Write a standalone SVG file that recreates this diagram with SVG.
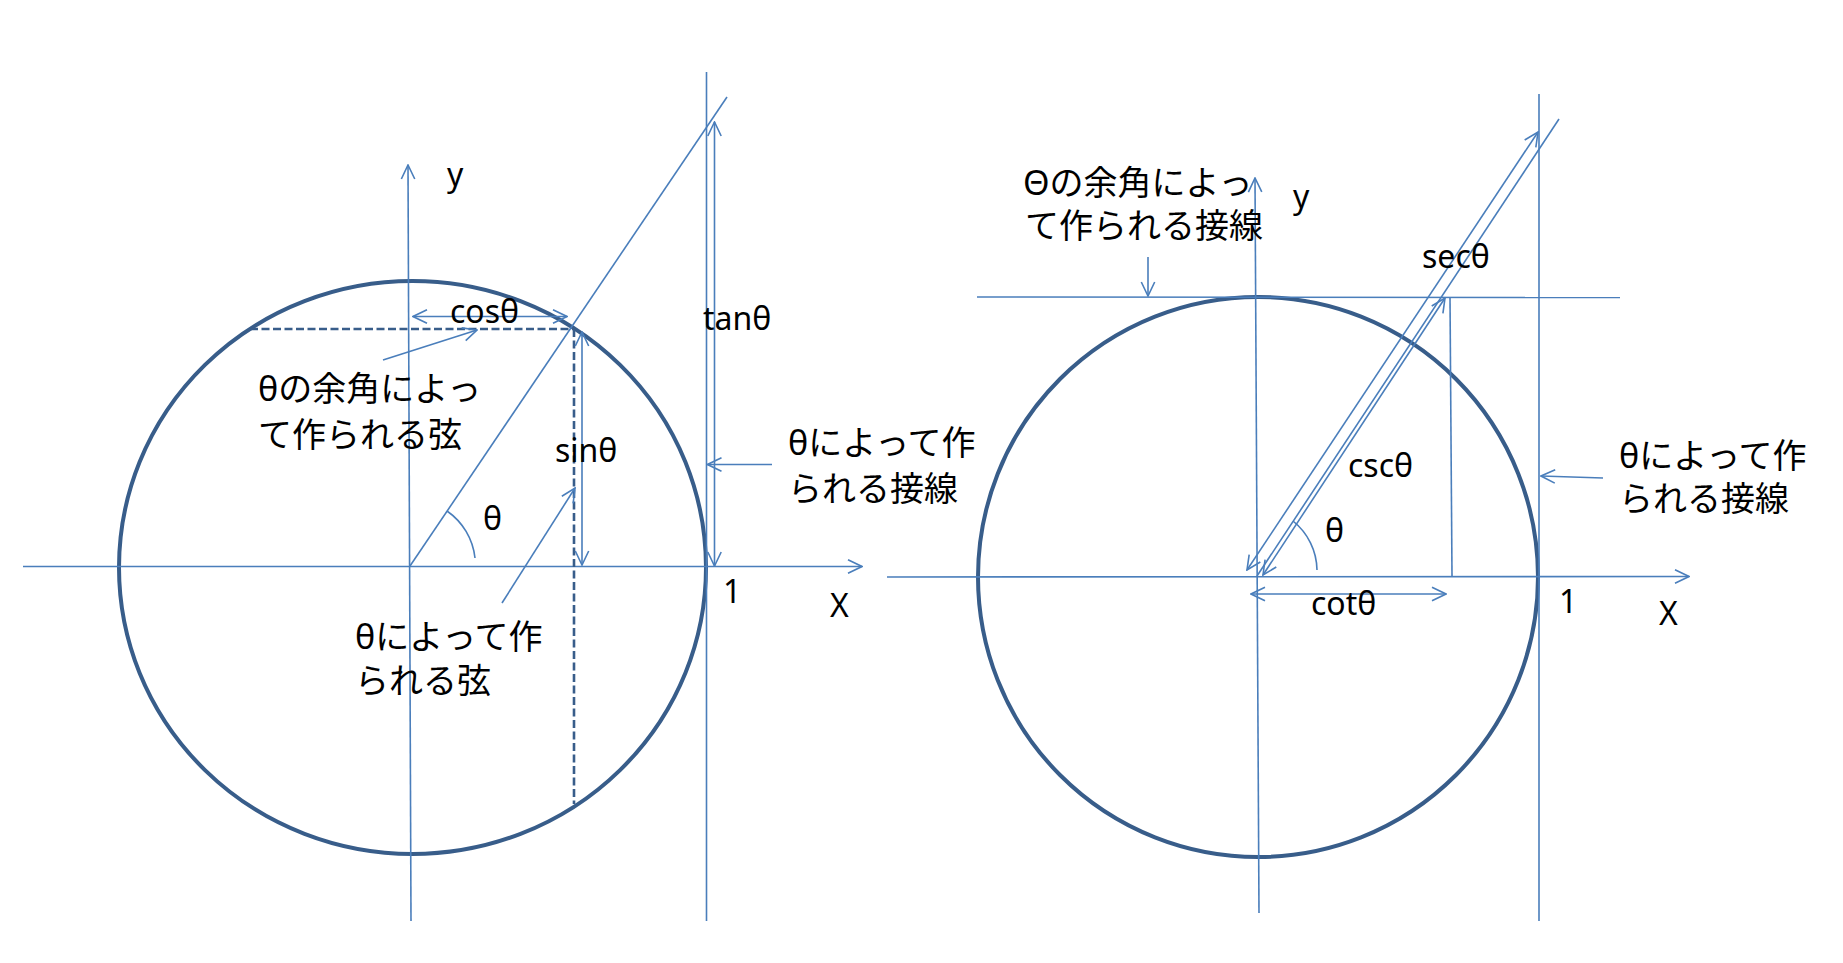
<svg xmlns="http://www.w3.org/2000/svg" width="1843" height="963" viewBox="0 0 1843 963">
<style>
.ln{fill:none;stroke:#4A7EBB;stroke-width:1.6}
.circ{fill:none;stroke:#385D8A;stroke-width:4}
.dash{fill:none;stroke:#385D8A;stroke-width:2.6;stroke-dasharray:8 3.5}
.t{font-family:"Noto Sans","Noto Sans CJK JP",sans-serif;font-size:32px;fill:#000}
.jp{font-family:"Noto Sans","Noto Sans CJK JP",sans-serif;font-size:34px;fill:#000}
</style>
<defs>
<marker id="ah" viewBox="0 0 16 16" refX="15" refY="8" markerWidth="16" markerHeight="16" markerUnits="userSpaceOnUse" orient="auto-start-reverse">
<path d="M1,1.3 L15,8 L1,14.7" fill="none" stroke="#4A7EBB" stroke-width="1.6"/>
</marker>
</defs>
<rect width="1843" height="963" fill="#fff"/>

<!-- LEFT DIAGRAM -->
<g id="left-circle"><ellipse class="circ" cx="412.5" cy="567.5" rx="293.5" ry="286.5"/></g>
<g id="left-axes">
<line class="ln" x1="23" y1="566.5" x2="862" y2="566.5" marker-end="url(#ah)"/>
<line class="ln" x1="411" y1="921" x2="408" y2="165" marker-end="url(#ah)"/>
<line class="ln" x1="706.5" y1="72" x2="706.5" y2="921"/>
<line class="ln" x1="410" y1="566" x2="727" y2="97"/>
</g>
<g id="left-chords">
<line class="dash" x1="250" y1="329" x2="573" y2="329"/>
<line class="dash" x1="574" y1="329" x2="574" y2="804"/>
</g>
<g id="left-angle"><path class="ln" d="M447,511 A66,66 0 0 1 475,558"/></g>
<g id="connectors-left">
<line class="ln" x1="413" y1="316.5" x2="567" y2="316.5" marker-start="url(#ah)" marker-end="url(#ah)"/>
<line class="ln" x1="582" y1="332" x2="582" y2="565" marker-start="url(#ah)" marker-end="url(#ah)"/>
<line class="ln" x1="714.5" y1="122" x2="714.5" y2="566" marker-start="url(#ah)" marker-end="url(#ah)"/>
<line class="ln" x1="383" y1="360" x2="477" y2="330" marker-end="url(#ah)"/>
<line class="ln" x1="502" y1="603" x2="575" y2="488" marker-end="url(#ah)"/>
<line class="ln" x1="772" y1="464.5" x2="707.5" y2="464.5" marker-end="url(#ah)"/>
</g>
<g id="left-labels">
<text class="t" x="447" y="186">y</text>
<text class="t" x="450" y="323">cosθ</text>
<text class="t" x="703" y="330">tanθ</text>
<text class="t" x="555" y="462">sinθ</text>
<text class="t" x="483" y="530">θ</text>
<text class="t" x="723" y="603">1</text>
<text class="t" x="830" y="617">X</text>
<text class="jp" x="258" y="401">θの余角によっ</text>
<text class="jp" x="258" y="447">て作られる弦</text>
<text class="jp" x="788" y="455">θによって作</text>
<text class="jp" x="788" y="501">られる接線</text>
<text class="jp" x="355" y="649">θによって作</text>
<text class="jp" x="355" y="693">られる弦</text>
</g>

<!-- RIGHT DIAGRAM -->
<g id="right-circle"><circle class="circ" cx="1258" cy="577" r="280"/></g>
<g id="right-axes">
<line class="ln" x1="887" y1="577" x2="1689" y2="576.5" marker-end="url(#ah)"/>
<line class="ln" x1="1259" y1="913" x2="1255" y2="178" marker-end="url(#ah)"/>
<line class="ln" x1="1539" y1="94" x2="1539" y2="921"/>
<line class="ln" x1="977" y1="297" x2="1620" y2="297.5"/>
<line class="ln" x1="1257" y1="576" x2="1559" y2="119"/>
<line class="ln" x1="1450" y1="297" x2="1452" y2="576"/>
</g>
<g id="right-angle"><path class="ln" d="M1293,521 A64,64 0 0 1 1317,570"/></g>
<g id="connectors-right">
<line class="ln" x1="1247" y1="570" x2="1538" y2="132" marker-start="url(#ah)" marker-end="url(#ah)"/>
<line class="ln" x1="1263" y1="575" x2="1445" y2="298" marker-start="url(#ah)" marker-end="url(#ah)"/>
<line class="ln" x1="1251" y1="594" x2="1446" y2="594" marker-start="url(#ah)" marker-end="url(#ah)"/>
<line class="ln" x1="1148" y1="257" x2="1148" y2="296" marker-end="url(#ah)"/>
<line class="ln" x1="1603" y1="478" x2="1541" y2="476" marker-end="url(#ah)"/>
</g>
<g id="right-labels">
<text class="t" x="1293" y="208">y</text>
<text class="t" x="1422" y="268">secθ</text>
<text class="t" x="1348" y="477">cscθ</text>
<text class="t" x="1325" y="542">θ</text>
<text class="t" x="1311" y="615">cotθ</text>
<text class="t" x="1559" y="613">1</text>
<text class="t" x="1659" y="625">X</text>
<text class="jp" x="1023" y="195">Θの余角によっ</text>
<text class="jp" x="1025" y="238">て作られる接線</text>
<text class="jp" x="1619" y="468">θによって作</text>
<text class="jp" x="1619" y="511">られる接線</text>
</g>
</svg>
